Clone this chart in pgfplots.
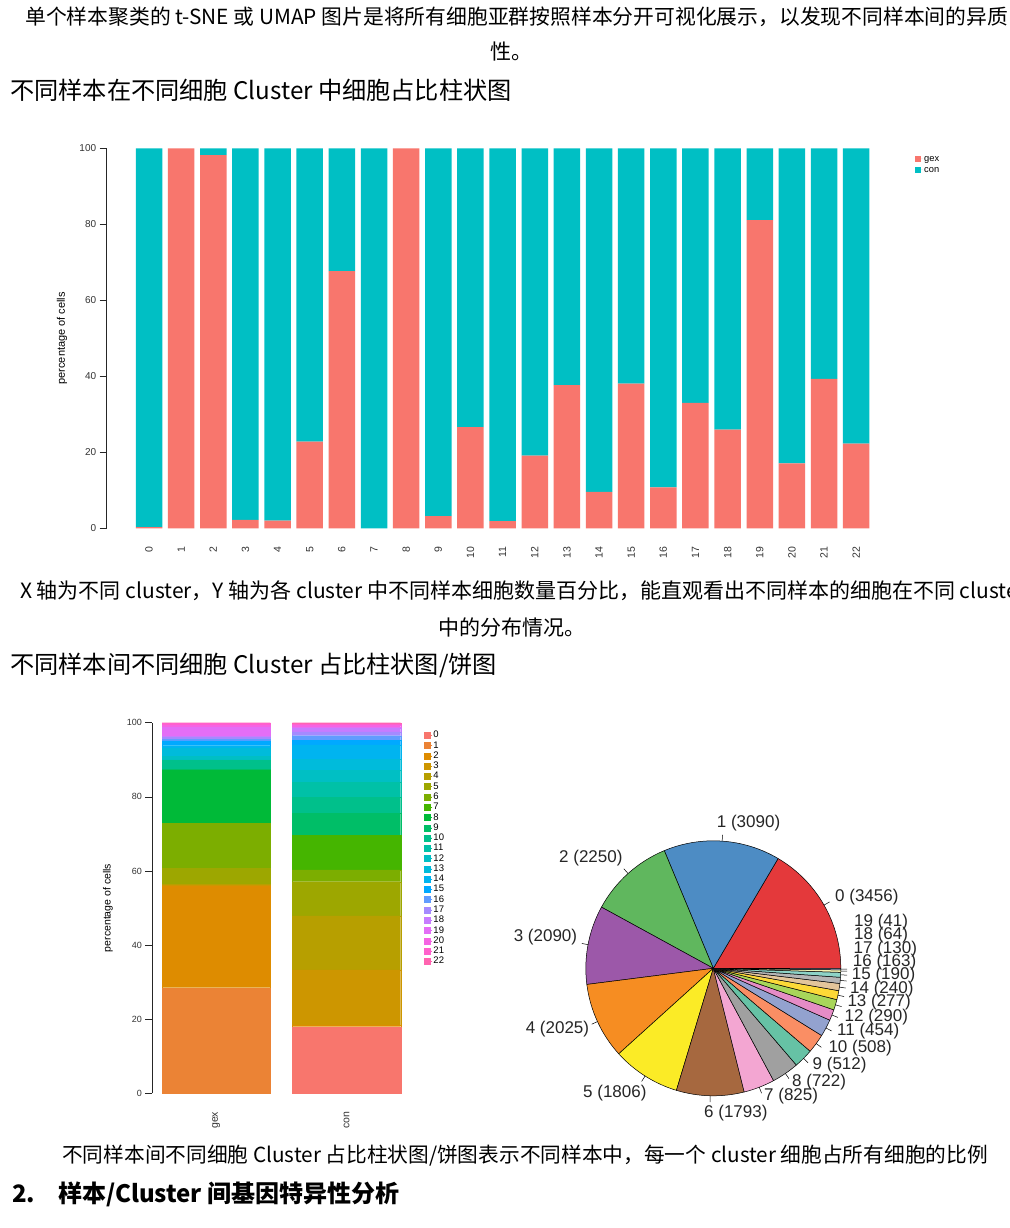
\documentclass[border=0pt]{standalone}
\usepackage{fontspec}
\setmainfont{Noto Sans CJK SC}
\newfontfamily\lib{Liberation Sans}
\usepackage{pgfplots}
\pgfplotsset{compat=1.18}
\usepackage{pgfplotstable}

% ggplot hue palette (23 clusters)
\definecolor{hc0}{HTML}{F8766D}
\definecolor{hc1}{HTML}{EB8335}
\definecolor{hc2}{HTML}{DE8C00}
\definecolor{hc3}{HTML}{CD9600}
\definecolor{hc4}{HTML}{B79F00}
\definecolor{hc5}{HTML}{9DA700}
\definecolor{hc6}{HTML}{7CAE00}
\definecolor{hc7}{HTML}{45B500}
\definecolor{hc8}{HTML}{00BA38}
\definecolor{hc9}{HTML}{00BE67}
\definecolor{hc10}{HTML}{00C08B}
\definecolor{hc11}{HTML}{00C1A7}
\definecolor{hc12}{HTML}{00BFC4}
\definecolor{hc13}{HTML}{00BBDB}
\definecolor{hc14}{HTML}{00B4F0}
\definecolor{hc15}{HTML}{00A9FF}
\definecolor{hc16}{HTML}{619CFF}
\definecolor{hc17}{HTML}{A58AFF}
\definecolor{hc18}{HTML}{C77CFF}
\definecolor{hc19}{HTML}{E36EF6}
\definecolor{hc20}{HTML}{F564E3}
\definecolor{hc21}{HTML}{FF61CC}
\definecolor{hc22}{HTML}{FF64B0}
% pie colours
\definecolor{p0}{HTML}{E4393B}
\definecolor{p1}{HTML}{4D8CC4}
\definecolor{p2}{HTML}{60B75E}
\definecolor{p3}{HTML}{9C58A9}
\definecolor{p4}{HTML}{F68D22}
\definecolor{p5}{HTML}{FBEB26}
\definecolor{p6}{HTML}{A6683F}
\definecolor{p7}{HTML}{F3A6D2}
\definecolor{p8}{HTML}{A0A0A0}
\definecolor{p9}{HTML}{66C2A5}
\definecolor{p10}{HTML}{FA8E64}
\definecolor{p11}{HTML}{93A2CF}
\definecolor{p12}{HTML}{E58CC6}
\definecolor{p13}{HTML}{A8D65A}
\definecolor{p14}{HTML}{FDD937}
\definecolor{p15}{HTML}{E3C59B}
\definecolor{p16}{HTML}{B5B5B5}
\definecolor{p17}{HTML}{8DD3C7}
\definecolor{p18}{HTML}{F5F5B5}
\definecolor{p19}{HTML}{BEBADA}

\pgfplotsset{sq legend/.style={legend image code/.code={\fill[##1] (0pt,-3pt) rectangle (6pt,3pt); \path (0pt,0pt) -- (8pt,0pt);}}}

% percentage of gex / con cells in each cluster
\pgfplotstableread{
x gex con
0 0.3 99.7
1 100 0
2 98.2 1.8
3 2.2 97.8
4 2.0 98.0
5 22.8 77.2
6 67.7 32.3
7 0 100
8 100 0
9 3.2 96.8
10 26.6 73.4
11 1.9 98.1
12 19.1 80.9
13 37.7 62.3
14 9.6 90.4
15 38.1 61.9
16 10.8 89.2
17 33.0 67.0
18 26.0 74.0
19 81.1 18.9
20 17.1 82.9
21 39.3 60.7
22 22.3 77.7
}\tabA

% percentage of each cluster within the sample (x=0 gex, x=1 con)
\pgfplotstableread{
x c0 c1 c2 c3 c4 c5 c6 c7 c8 c9 c10 c11 c12 c13 c14 c15 c16 c17 c18 c19 c20 c21 c22
0 0 28.5 27.3 0.3 0.3 4.3 12.1 0 14.3 0.3 2.5 0.1 1.0 2.2 0.6 1.3 0.4 0.5 0.4 2.4 0.5 0.5 0.2
1 18.0 0 0.3 15.0 14.6 9.2 3.2 9.4 0 5.8 4.4 4.0 3.3 2.9 3.9 1.3 1.2 1.0 1.0 0.3 0.5 0.4 0.3
}\tabB

% cluster counts / colour / label x / label y / label anchor
\def\piedata{3456/p0/835/896.7/west, 3090/p1/716.7/822.7/west, 2250/p2/622.7/858.3/east, 2090/p3/577.3/937.3/east, 2025/p4/589.3/1029.3/east, 1806/p5/646.7/1092.7/east, 1793/p6/704/1113.3/west, 825/p7/764/1096/west, 722/p8/792/1081.7/west, 512/p9/812.5/1065/west, 508/p10/828.3/1048.3/west, 454/p11/837/1030.7/west, 290/p12/844.5/1016.7/west, 277/p13/847.3/1002.3/west, 240/p14/850/988.8/west, 190/p15/851.7/975.5/west, 163/p16/852.7/962.5/west, 130/p17/853.5/948.8/west, 64/p18/854/935.5/west, 41/p19/854/922.5/west}

\begin{document}
\begin{tikzpicture}[x=1pt,y=1pt]
\path[use as bounding box, fill=white] (0,0) rectangle (1009,-1228);

% ---------- document text ----------
\node[anchor=base west, inner sep=0pt, font=\fontsize{20.8}{25}\selectfont] at (25,-25) {单个样本聚类的 t-SNE 或 UMAP 图片是将所有细胞亚群按照样本分开可视化展示，以发现不同样本间的异质};
\node[anchor=base, inner sep=0pt, font=\fontsize{21}{25}\selectfont] at (511,-60) {性。};
\node[anchor=base west, inner sep=0pt, font=\fontsize{24.2}{30}\selectfont] at (10,-100) {不同样本在不同细胞 Cluster 中细胞占比柱状图};
\node[anchor=base west, inner sep=0pt, font=\fontsize{21}{25}\selectfont] at (20,-598) {X 轴为不同 cluster，Y 轴为各 cluster 中不同样本细胞数量百分比，能直观看出不同样本的细胞在不同 cluster};
\node[anchor=base, inner sep=0pt, font=\fontsize{21}{25}\selectfont] at (512,-635) {中的分布情况。};
\node[anchor=base west, inner sep=0pt, font=\fontsize{24.2}{30}\selectfont] at (10,-673) {不同样本间不同细胞 Cluster 占比柱状图/饼图};
\node[anchor=base west, inner sep=0pt, font=\fontsize{20.7}{25}\selectfont] at (62,-1162) {不同样本间不同细胞 Cluster 占比柱状图/饼图表示不同样本中，每一个 cluster 细胞占所有细胞的比例};
\node[anchor=base west, inner sep=0pt, font=\bfseries\fontsize{24}{28}\selectfont] at (12,-1202) {2.};
\node[anchor=base west, inner sep=0pt, font=\bfseries\fontsize{24}{28}\selectfont] at (58,-1202) {样本/Cluster 间基因特异性分析};

% ---------- chart 1 ----------
\begin{axis}[
  at={(106.7pt,-528.3pt)}, anchor=south west, scale only axis,
  width=773.3pt, height=380pt,
  xmin=-1.316, xmax=22.74, ymin=0, ymax=100,
  ybar stacked, bar width=26.5pt,
  axis y line*=left, axis x line*=bottom,
  x axis line style={draw=none},
  y axis line style={line width=0.6pt, black!85},
  xtick={0,...,22}, ytick={0,20,...,100},
  tick align=outside, major tick length=7pt,
  xtick style={draw=none},
  ytick style={line width=0.6pt, black!85},
  /pgf/number format/assume math mode=true,
  yticklabel style={font=\lib\fontsize{10}{12}\selectfont, text=black!80},
  xticklabel style={font=\lib\fontsize{10.5}{12}\selectfont, rotate=90, anchor=east, text=black!80},
  xticklabel shift=8pt,
  ylabel={percentage of cells},
  ylabel style={font=\lib\fontsize{11}{12}\selectfont, at={(axis description cs:-0.0578,0.5)}, anchor=center},
  legend style={at={(axis description cs:1.0414,0.993)}, anchor=north west, draw=none, fill=none,
    font=\lib\fontsize{9.3}{10}\selectfont, row sep=0pt,
    nodes={inner sep=1pt, text height=7pt, text depth=2pt}},
  legend cell align=left,
]
\addplot[fill=hc0, draw=none, sq legend] table[x=x, y=gex] {\tabA};
\addlegendentry{gex}
\addplot[fill=hc12, draw=none, sq legend] table[x=x, y=con] {\tabA};
\addlegendentry{con}
\end{axis}

% ---------- chart 2 ----------
\begin{axis}[
  at={(152.3pt,-1093.3pt)}, anchor=south west, scale only axis,
  width=257.7pt, height=370.6pt,
  xmin=-0.49, xmax=1.487, ymin=0, ymax=100,
  ybar stacked, bar width=108.2pt,
  axis y line*=left, axis x line*=bottom,
  x axis line style={draw=none},
  y axis line style={line width=0.6pt, black!85},
  xtick={0,1}, xticklabels={gex,con}, ytick={0,20,...,100},
  tick align=outside, major tick length=7pt,
  xtick style={draw=none},
  ytick style={line width=0.6pt, black!85},
  /pgf/number format/assume math mode=true,
  yticklabel style={font=\lib\fontsize{9}{11}\selectfont, text=black!80},
  xticklabel style={font=\lib\fontsize{10.5}{12}\selectfont, rotate=90, anchor=east, text=black!80},
  xticklabel shift=8pt,
  ylabel={percentage of cells},
  ylabel style={font=\lib\fontsize{10.5}{12}\selectfont, at={(axis description cs:-0.172,0.5)}, anchor=center},
  legend style={at={(axis description cs:1.043,0.986)}, anchor=north west, draw=none, fill=none,
    font=\lib\fontsize{9.5}{10}\selectfont, row sep=0pt,
    nodes={inner sep=1pt, text height=6.8pt, text depth=1.47pt}},
  legend cell align=left,
]
\pgfplotsinvokeforeach{0,...,22}{
  \addplot[fill=hc#1, draw=hc#1, line width=0.2pt, sq legend] table[x=x, y=c#1] {\tabB};
  \addlegendentry{#1}
}
\end{axis}

% ---------- pie chart ----------
\begin{axis}[
  at={(713.3pt,-968.3pt)}, anchor=origin,
  x=127.5pt, y=127.5pt,
  xmin=-1.6, xmax=1.6, ymin=-1.2, ymax=1.2,
  hide axis, clip=false,
]
\addplot[draw=none, forget plot] coordinates {(0,0)};
\pgfplotsextra{
  \gdef\tot{0}
  \foreach \v/\c/\lx/\ly/\la in \piedata {
    \pgfmathsetmacro\nt{\tot+\v/1000}\xdef\tot{\nt}
  }
  \gdef\cum{0}
  \foreach \v/\c/\lx/\ly/\la [count=\i from 0] in \piedata {
    \pgfmathsetmacro\a{\cum/\tot*360}
    \pgfmathsetmacro\newcum{\cum+\v/1000}
    \pgfmathsetmacro\b{\newcum/\tot*360}
    \pgfmathsetmacro\xa{cos(\a)}
    \pgfmathsetmacro\ya{sin(\a)}
    \filldraw[fill=\c, draw=black, line width=0.5pt, line join=round]
      (axis cs:0,0) -- (axis cs:\xa,\ya) arc[start angle=\a, end angle=\b, radius=127.5pt] -- cycle;
    \pgfmathsetmacro\m{(\a+\b)/2}
    \pgfmathsetmacro\xm{cos(\m)}
    \pgfmathsetmacro\ym{sin(\m)}
    \pgfmathsetmacro\xn{1.05*cos(\m)}
    \pgfmathsetmacro\yn{1.05*sin(\m)}
    \draw[line width=0.5pt] (axis cs:\xm,\ym) -- (axis cs:\xn,\yn);
    \pgfmathsetmacro\lxa{(\lx-713.3)/127.5}
    \pgfmathsetmacro\lya{(968.3-\ly)/127.5}
    \node[anchor=\la, inner sep=0pt, text=black!85, font=\lib\fontsize{17}{17}\selectfont] at (axis cs:\lxa,\lya) {\i{} (\v)};
    \xdef\cum{\newcum}
  }
}
\end{axis}
\end{tikzpicture}
\end{document}
